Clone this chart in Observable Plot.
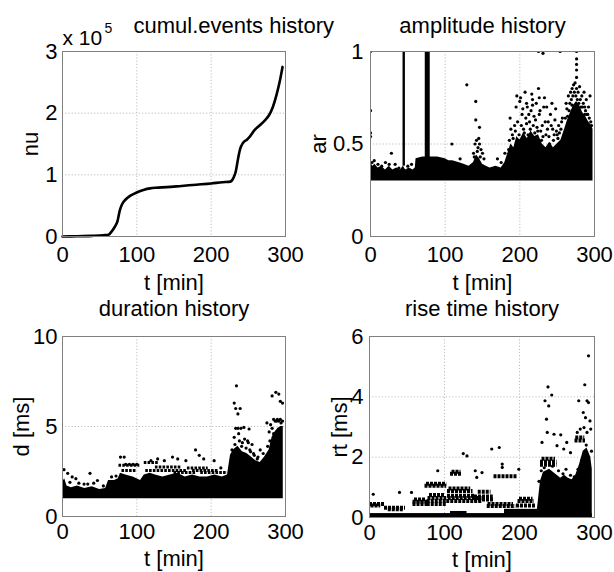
<!DOCTYPE html>
<html><head><meta charset="utf-8">
<script src="https://cdn.jsdelivr.net/npm/d3@7"></script>
<script src="https://cdn.jsdelivr.net/npm/@observablehq/plot@0.6"></script>
<style>
body{margin:0;background:#fff;}
#wrap{position:relative;width:614px;height:572px;font-family:"Liberation Sans",Arial,sans-serif;}
#wrap > svg{position:absolute;}
</style></head><body><div id="wrap"></div>
<script>
// ---------- shared ----------
const xTicks = [0, 100, 200, 300];

// ---------- cumulative events (nu in units of 1e5) ----------
const cumT  = [0, 20, 40, 55, 62, 66, 70, 74, 77, 80, 85, 90, 96, 103, 110, 118, 125, 140, 160, 180, 200, 215, 226, 230, 233, 236, 239, 243, 248, 252, 258, 265, 272, 278, 283, 288, 292, 296];
const cumNu = [0, 0.005, 0.01, 0.02, 0.03, 0.08, 0.15, 0.25, 0.42, 0.52, 0.6, 0.65, 0.69, 0.73, 0.76, 0.78, 0.79, 0.8, 0.82, 0.84, 0.86, 0.88, 0.89, 0.95, 1.05, 1.25, 1.42, 1.52, 1.57, 1.62, 1.72, 1.8, 1.88, 1.97, 2.1, 2.3, 2.5, 2.75];
const cumYTicks = [0, 1, 2, 3];

// ---------- amplitude ----------
const ampYTicks = [0, 0.5, 1];
const ampFloor = 0.3;
const ampT   = [0,3,6,10,15,20,25,30,35,40,44,47,52,57,60,61,70,80,90,100,105,110,118,125,132,138,142,146,150,155,160,168,175,180,184,188,192,196,200,205,210,215,220,225,230,235,240,245,250,255,260,264,268,272,276,280,284,288,292,296,298];
const ampTop = [0.40,0.38,0.39,0.37,0.38,0.36,0.38,0.36,0.37,0.36,0.38,0.36,0.37,0.36,0.37,0.42,0.43,0.43,0.43,0.42,0.41,0.41,0.40,0.39,0.38,0.40,0.44,0.42,0.39,0.38,0.37,0.38,0.37,0.40,0.45,0.50,0.48,0.54,0.52,0.56,0.53,0.57,0.54,0.55,0.50,0.48,0.51,0.48,0.50,0.52,0.58,0.63,0.67,0.71,0.73,0.71,0.67,0.65,0.62,0.60,0.58];
const ampSpikeT  = [44.5, 76];
const ampSpikeLo = [0.38, 0.42];
const ampSpikeHi = [1.0, 1.0];
const ampPtT = [185,190,193,196,200,203,207,210,213,216,219,222,225,227,230,233,236,238,241,244,247,250,205,211,218,224,229,198,208,215,235,240,245,252,255,
  262,265,268,270,272,274,276,278,280,283,286,289,292,294,266,284,290,276,276,276,276,
  0,225,231,254,276,0,0,0,
  129,141,141,146,109,28,170,175,180,120,
  138,140,142,144,146,148,150,143,147,139,152,145,
  2,5,10,15,20,25,33,38,55,50,
  186,188,191,194,197,199,202,204,206,209,212,214,217,220,221,223,226,228,231,234,237,239,242,246,249,251,253,256,258,
  187,195,201,209,217,226,232,243,248,257,
  261,263,267,269,271,273,275,277,279,281,282,285,287,288,291,293,295,264,270,279,287,296];
const ampPtA = [0.47,0.55,0.60,0.76,0.73,0.66,0.78,0.70,0.62,0.77,0.65,0.72,0.80,0.68,0.60,0.75,0.70,0.62,0.66,0.58,0.63,0.55,0.58,0.55,0.60,0.57,0.52,0.52,0.64,0.68,0.55,0.50,0.52,0.60,0.58,
  0.72,0.76,0.78,0.80,0.82,0.83,0.80,0.78,0.81,0.76,0.78,0.74,0.70,0.76,0.68,0.70,0.66,0.90,0.93,0.96,0.86,
  1.0,1.0,0.99,1.0,1.0,0.68,0.56,0.54,
  0.82,0.73,0.63,0.59,0.50,0.45,0.42,0.40,0.45,0.42,
  0.45,0.50,0.52,0.48,0.50,0.47,0.45,0.46,0.43,0.43,0.42,0.53,
  0.40,0.41,0.39,0.38,0.40,0.39,0.39,0.37,0.39,0.38,
  0.52,0.58,0.53,0.57,0.62,0.55,0.60,0.69,0.56,0.61,0.66,0.58,0.71,0.56,0.63,0.59,0.66,0.57,0.54,0.62,0.58,0.54,0.60,0.55,0.57,0.53,0.56,0.62,0.52,
  0.64,0.70,0.75,0.72,0.74,0.75,0.70,0.72,0.69,0.64,
  0.64,0.69,0.72,0.74,0.76,0.78,0.76,0.74,0.72,0.74,0.70,0.72,0.70,0.68,0.66,0.64,0.62,0.65,0.71,0.67,0.66,0.60];

// ---------- duration ----------
const durYTicks = [0, 5, 10];
const durFloor = 0.98;
const durT   = [0,3,6,12,20,30,40,50,58,62,70,75,78,85,95,100,105,110,118,125,135,145,155,165,175,185,195,205,215,222,226,230,236,242,248,254,260,266,272,278,282,286,290,294,297];
const durTop = [1.9,2.1,1.7,1.6,1.7,1.55,1.65,1.5,1.55,2.0,2.0,2.1,2.4,2.3,2.2,2.1,2.0,2.3,2.4,2.3,2.2,2.3,2.4,2.2,2.3,2.2,2.2,2.3,2.2,2.3,3.4,3.7,3.9,3.6,3.5,3.3,3.1,3.0,3.3,3.7,4.4,4.7,4.9,5.0,5.0];
const durStreakX1 = [76, 80, 110, 112, 125, 150, 168, 175, 186];
const durStreakX2 = [104, 100, 130, 168, 160, 180, 196, 210, 222];
const durStreakY  = [2.85, 2.55, 3.0, 2.55, 2.75, 2.45, 2.7, 2.55, 2.45];
const durPtT = [2,7,13,18,37,47,29, 78,83,85,90,95,100, 137,148,155,166,179,184,190,204,213,119,128,
  234,231,233,239,236,233,236,240,244,251,231,237,242,249,255,257,262,266,253,
  282,287,291,293,296,275,280,284,289,293,278,282,
  228,232,238,241,245,247,250,252,258,263,270,276,279,284,286,288,291,294,296,
  10,22,34,42,55,66,72];
const durPtD = [2.6,2.4,2.2,2.1,2.4,2.0,1.8, 3.3,3.3,2.9,2.9,2.9,2.9, 3.1,3.3,3.2,3.1,3.7,3.4,3.2,3.1,2.7,3.1,3.2,
  7.26,6.3,6.0,6.0,5.7,4.9,4.9,4.9,4.95,4.86,4.4,4.6,4.1,4.2,4.0,3.5,3.2,3.7,3.6,
  6.7,6.9,6.8,6.4,6.3,5.2,5.1,5.4,5.4,5.4,4.7,4.9,
  3.7,4.0,4.2,3.9,4.3,3.8,4.1,3.7,3.4,3.3,3.5,3.9,4.2,4.6,5.3,5.3,5.3,5.2,5.3,
  1.9,1.85,1.8,1.85,1.7,2.2,2.25];

// ---------- rise time ----------
const rtYTicks = [0, 2, 4, 6];
const rtBaseX1 = [0, 108, 180];
const rtBaseX2 = [297, 130, 230];
const rtBaseY2 = [0.13, 0.2, 0.27];
const rtStreakX1 = [0, 2, 20, 25, 58, 58, 60, 77, 77, 78, 80, 74, 76, 108, 110, 104, 106, 103, 105, 104, 140, 140, 145, 157, 158, 166, 196, 198, 200, 228, 228, 230, 274, 275];
const rtStreakX2 = [20, 15, 48, 45, 78, 78, 76, 103, 103, 103, 100, 103, 103, 124, 122, 138, 135, 150, 150, 140, 166, 165, 162, 195, 192, 197, 222, 220, 218, 250, 250, 248, 288, 287];
const rtStreakY  = [0.45, 0.40, 0.32, 0.27, 0.45, 0.52, 0.60, 0.45, 0.55, 0.65, 0.75, 1.05, 1.12, 1.45, 1.52, 0.88, 0.96, 0.55, 0.65, 0.72, 0.60, 0.70, 0.85, 0.38, 0.45, 1.37, 0.40, 0.55, 0.62, 1.75, 1.85, 1.95, 2.55, 2.65];
const rtCloudT   = [224,228,232,236,240,245,250,255,260,265,270,275,280,285,290,295,297];
const rtCloudTop = [0.3,1.2,1.5,1.55,1.6,1.5,1.4,1.3,1.4,1.3,1.25,1.4,1.75,2.2,2.3,2.0,1.6];
const rtPtT = [292,287,238,243,234,239,236,279,292,290,285,288,294,125,130,163,173,177,91,141,150,177,199,143,56,40,5,237,246,255,263,259,268,250,230,277,281,286,290,295,
  226,229,233,244,252,258,262,268,273,278,283,289,296];
const rtPtR = [5.36,4.4,4.33,4.06,3.87,3.7,3.26,3.87,3.81,3.87,3.48,3.31,3.2,2.12,2.04,2.27,2.32,1.77,1.55,1.55,1.49,1.66,1.6,1.33,0.83,0.83,0.77,2.82,2.76,2.74,2.49,2.27,2.15,2.38,2.49,2.82,2.93,2.98,2.82,2.93,
  1.2,1.55,1.65,1.7,1.55,1.45,1.6,1.4,1.35,1.6,1.9,2.4,2.2];

// ---------- helpers ----------
const FONT = "Liberation Sans, Arial, sans-serif";
const len = (a) => ({length: a.length});
const gridStyle = {stroke: "#bdbdbd", strokeOpacity: 1, strokeDasharray: "1.2,2", strokeWidth: 1};
const fmt = (d) => String(d);

function panel(o) {
  const marks = [
    Plot.gridX(xTicks.slice(1, -1), gridStyle),
    Plot.gridY(o.yTicks.slice(1, -1), gridStyle),
    ...o.marks,
    Plot.frame({stroke: "#808080", strokeWidth: 1}),
    Plot.axisX(xTicks, {tickSize: 0, tickPadding: o.xPad, fontSize: 22, fontFamily: FONT, label: null, fill: "black", tickFormat: fmt}),
    Plot.axisY(o.yTicks, {tickSize: 0, tickPadding: o.yPad, fontSize: 22, fontFamily: FONT, label: null, fill: "black", tickFormat: fmt}),
    Plot.text([o.xlabel], {frameAnchor: "bottom", dy: o.xlabelDy, lineAnchor: "bottom", fontSize: 22, fontFamily: FONT, fill: "black"}),
    Plot.text([o.ylabel], {frameAnchor: "left", dx: o.ylabelDx, rotate: -90, lineAnchor: "bottom", textAnchor: "middle", fontSize: 22, fontFamily: FONT, fill: "black"}),
    Plot.text([o.title], {frameAnchor: o.titleAnchor || "top", dx: o.titleDx || 0, dy: o.titleDy, textAnchor: o.titleTextAnchor || "middle", lineAnchor: "bottom", fontSize: 22, fontFamily: FONT, fill: "black"}),
    ...(o.extra || [])
  ];
  const svg = Plot.plot({
    width: o.width, height: o.height,
    marginTop: o.mt, marginRight: o.mr, marginBottom: o.mb, marginLeft: o.ml,
    x: {domain: [0, 300]},
    y: {domain: o.yDomain},
    style: {background: "transparent", fontFamily: FONT, overflow: "visible"},
    marks
  });
  svg.style.left = o.left + "px";
  svg.style.top = o.top + "px";
  document.getElementById("wrap").appendChild(svg);
}

const dotStyle = {r: 1.6, fill: "black", stroke: null, clip: true};
const durStreakStyle = {stroke: "black", strokeWidth: 3, strokeDasharray: "2.6,1.2", clip: true};
const rtStreakStyle = {stroke: "black", strokeWidth: 4, strokeDasharray: "3,1", clip: true};

// Top-left: cumulative events
panel({
  left: 0, top: 0, width: 307, height: 296, mt: 51, mr: 22, mb: 60, ml: 62,
  yDomain: [0, 3], yTicks: cumYTicks, xPad: 10, yPad: 5,
  xlabel: "t [min]", xlabelDy: 53, ylabel: "nu", ylabelDx: -25,
  title: "cumul.events history", titleAnchor: "top-left", titleDx: 71, titleDy: -19, titleTextAnchor: "start",
  marks: [
    Plot.line(len(cumT), {x: cumT, y: cumNu, stroke: "black", strokeWidth: 2.6, curve: "monotone-x"})
  ],
  extra: [
    Plot.text(["x 10"], {frameAnchor: "top-left", dx: 0, dy: -7, textAnchor: "start", lineAnchor: "bottom", fontSize: 21, fontFamily: FONT, fill: "black"}),
    Plot.text(["5"], {frameAnchor: "top-left", dx: 42, dy: -19, textAnchor: "start", lineAnchor: "bottom", fontSize: 14, fontFamily: FONT, fill: "black"})
  ]
});

// Top-right: amplitude
panel({
  left: 307, top: 0, width: 307, height: 296, mt: 51, mr: 20, mb: 60, ml: 63,
  yDomain: [0, 1], yTicks: ampYTicks, xPad: 10, yPad: 7,
  xlabel: "t [min]", xlabelDy: 53, ylabel: "ar", ylabelDx: -45,
  title: "amplitude history", titleDy: -19,
  marks: [
    Plot.areaY(len(ampT), {x: ampT, y1: ampFloor, y2: ampTop, fill: "black", clip: true}),
    Plot.ruleX(len(ampSpikeT), {x: ampSpikeT, y1: ampSpikeLo, y2: ampSpikeHi, stroke: "black", strokeWidth: [2.4, 5], strokeDasharray: ["2,2.4", null]}),
    Plot.dot(len(ampPtT), {x: ampPtT, y: ampPtA, ...dotStyle})
  ]
});

// Bottom-left: duration
panel({
  left: 0, top: 296, width: 307, height: 276, mt: 40, mr: 22, mb: 56, ml: 62,
  yDomain: [0, 10], yTicks: durYTicks, xPad: 7, yPad: 5,
  xlabel: "t [min]", xlabelDy: 49, ylabel: "d [ms]", ylabelDx: -34,
  title: "duration history", titleDy: -21,
  marks: [
    Plot.areaY(len(durT), {x: durT, y1: durFloor, y2: durTop, fill: "black", clip: true}),
    Plot.ruleY(len(durStreakY), {x1: durStreakX1, x2: durStreakX2, y: durStreakY, ...durStreakStyle}),
    Plot.dot(len(durPtT), {x: durPtT, y: durPtD, ...dotStyle})
  ]
});

// Bottom-right: rise time
panel({
  left: 307, top: 296, width: 307, height: 276, mt: 40, mr: 20, mb: 55, ml: 62,
  yDomain: [0, 6], yTicks: rtYTicks, xPad: 7, yPad: 6,
  xlabel: "t [min]", xlabelDy: 49, ylabel: "rt [ms]", ylabelDx: -23,
  title: "rise time history", titleDy: -21,
  marks: [
    Plot.rect(len(rtBaseX1), {x1: rtBaseX1, x2: rtBaseX2, y1: 0, y2: rtBaseY2, fill: "black", clip: true}),
    Plot.ruleY(len(rtStreakY), {x1: rtStreakX1, x2: rtStreakX2, y: rtStreakY, ...rtStreakStyle}),
    Plot.areaY(len(rtCloudT), {x: rtCloudT, y1: 0, y2: rtCloudTop, fill: "black", clip: true}),
    Plot.dot(len(rtPtT), {x: rtPtT, y: rtPtR, ...dotStyle})
  ]
});
</script></body></html>
